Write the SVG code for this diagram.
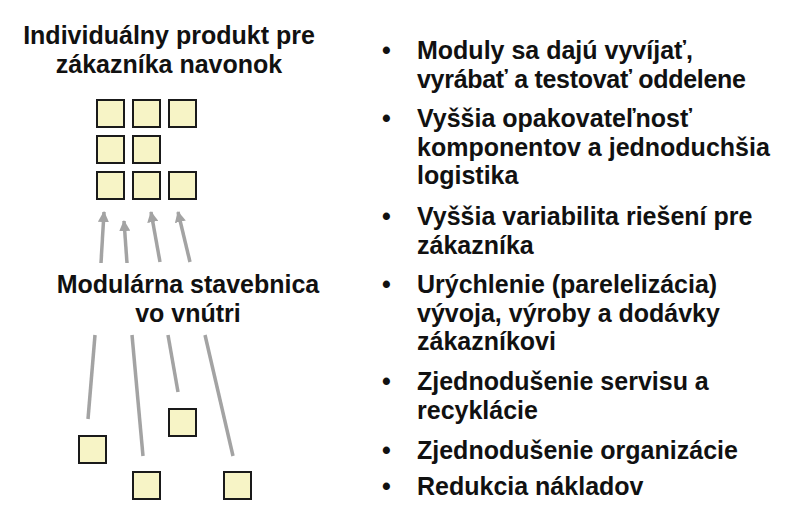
<svg xmlns="http://www.w3.org/2000/svg" width="800" height="521" viewBox="0 0 800 521">
<defs>
<style>
.t{font-family:"Liberation Sans",Arial,sans-serif;font-weight:bold;fill:#111;}
.h{font-size:25px;text-anchor:middle;}
.b{font-size:25px;}
.sq{fill:#f7f4c6;stroke:#1a1a1a;stroke-width:2;}
.ln{stroke:#a3a3a3;stroke-width:3.5;fill:none;stroke-linecap:butt;}
</style>
<marker id="ah" viewBox="0 0 10 10" refX="9" refY="5" markerWidth="3.2" markerHeight="3.2" orient="auto" markerUnits="strokeWidth">
<path d="M0,0 L10,5 L0,10 z" fill="#a3a3a3"/>
</marker>
</defs>
<rect width="800" height="521" fill="#fff"/>
<g id="title-top"><text class="t h" x="169" y="44">Individuálny produkt pre</text><text class="t h" x="169" y="73">zákazníka navonok</text></g>
<g id="product">
<rect class="sq" x="97" y="100" width="27" height="27"/>
<rect class="sq" x="133" y="100" width="27" height="27"/>
<rect class="sq" x="169" y="100" width="27" height="27"/>
<rect class="sq" x="97" y="136" width="27" height="27"/>
<rect class="sq" x="133" y="136" width="27" height="27"/>
<rect class="sq" x="97" y="172" width="27" height="27"/>
<rect class="sq" x="133" y="172" width="27" height="27"/>
<rect class="sq" x="169" y="172" width="27" height="27"/>
</g>
<g id="title-bottom"><text class="t h" x="188" y="293">Modulárna stavebnica</text><text class="t h" x="188" y="322">vo vnútri</text></g>
<g id="module1"><rect class="sq" x="79" y="436" width="27" height="27"/></g>
<g id="module2"><rect class="sq" x="133" y="472" width="27" height="27"/></g>
<g id="module3"><rect class="sq" x="169" y="409" width="27" height="27"/></g>
<g id="module4"><rect class="sq" x="224" y="472" width="27" height="27"/></g>
<g id="connectors">
<line class="ln" x1="101" y1="263" x2="104" y2="212" marker-end="url(#ah)"/>
<line class="ln" x1="127" y1="263" x2="124" y2="221" marker-end="url(#ah)"/>
<line class="ln" x1="160" y1="262" x2="151" y2="212" marker-end="url(#ah)"/>
<line class="ln" x1="190" y1="262" x2="178" y2="212" marker-end="url(#ah)"/>
<line class="ln" x1="95" y1="335" x2="88" y2="419"/>
<line class="ln" x1="132" y1="335" x2="143" y2="456"/>
<line class="ln" x1="168" y1="335" x2="178" y2="392"/>
<line class="ln" x1="205" y1="335" x2="233" y2="456"/>
</g>
<g id="bullets" class="t b">
<text x="382" y="59">•</text><text x="417" y="59">Moduly sa dajú vyvíjať,</text>
<text x="417" y="88" textLength="329">vyrábať a testovať oddelene</text>
<text x="382" y="127">•</text><text x="417" y="127">Vyššia opakovateľnosť</text>
<text x="417" y="156">komponentov a jednoduchšia</text>
<text x="417" y="184">logistika</text>
<text x="382" y="225">•</text><text x="417" y="225">Vyššia variabilita riešení pre</text>
<text x="417" y="254">zákazníka</text>
<text x="382" y="293">•</text><text x="417" y="293">Urýchlenie (parelelizácia)</text>
<text x="417" y="322">vývoja, výroby a dodávky</text>
<text x="417" y="350">zákazníkovi</text>
<text x="382" y="390">•</text><text x="417" y="390">Zjednodušenie servisu a</text>
<text x="417" y="419">recyklácie</text>
<text x="382" y="459">•</text><text x="417" y="459">Zjednodušenie organizácie</text>
<text x="382" y="495">•</text><text x="417" y="495">Redukcia nákladov</text>
</g>
</svg>
